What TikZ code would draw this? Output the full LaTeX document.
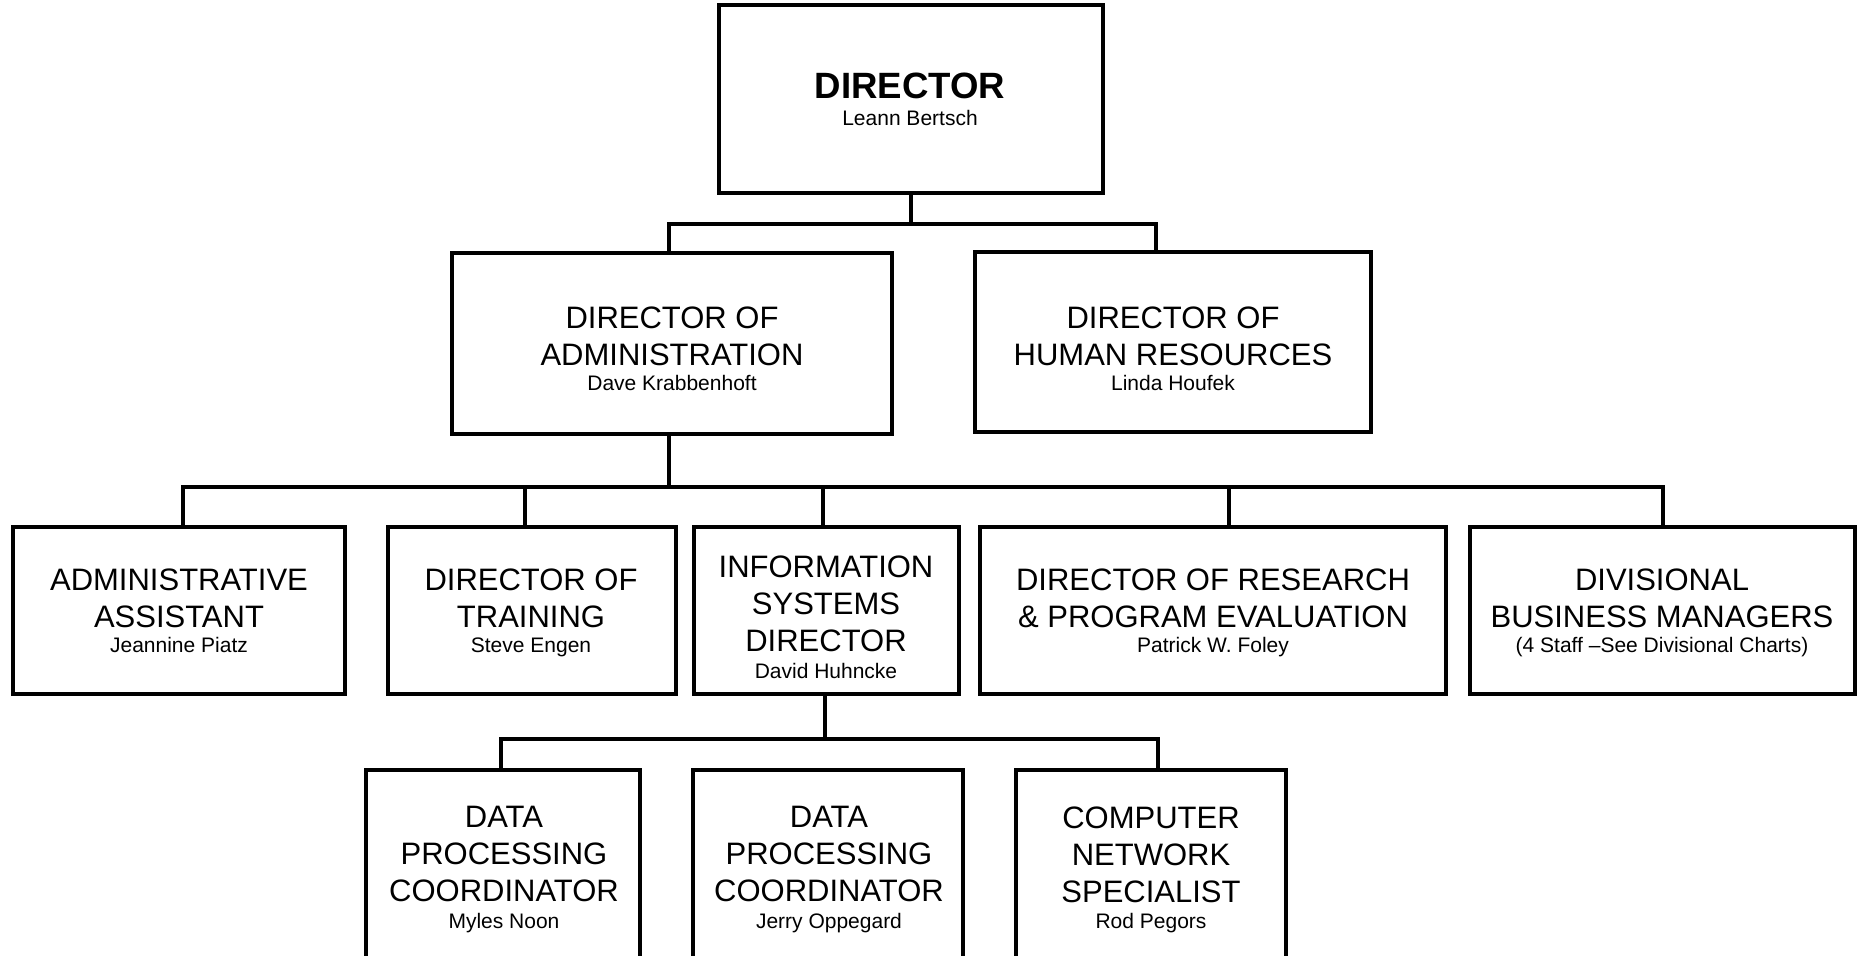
\documentclass[tikz,border=0pt]{standalone}
\usepackage{fontspec}
\setmainfont{Liberation Sans}
\usetikzlibrary{fit}
\begin{document}
\begin{tikzpicture}[x=0.5pt,y=-0.5pt,
  box/.style={draw=black, line width=1.6pt, inner sep=0pt},
  ttl/.style={anchor=north, align=center, inner sep=0pt, font=\fontsize{15.5}{18.5}\selectfont},
  nm/.style={anchor=base, inner sep=0pt, font=\fontsize{10.5}{12}\selectfont},
  bigttl/.style={anchor=base, inner sep=0pt, font=\fontsize{18.3}{22}\selectfont\bfseries},
  conn/.style={draw=black, line width=1.6pt}]
\useasboundingbox (0,0) rectangle (1858,956);
\fill[white] (0,0) rectangle (1858,956);
\clip (0,0) rectangle (1858,956);

% level 1
\node[box, fit={(719,5) (1103,193)}] (dir) {};
\node[bigttl] (dirt) at (910,99) {DIRECTOR};
\node[nm] (dirn) at (910,126) {Leann Bertsch};

% level 2
\node[box, fit={(452,253) (892,434)}] (adm) {};
\node[ttl] (admt) at (672,306) {DIRECTOR OF\\ADMINISTRATION};
\node[nm] (admn) at (672,391) {Dave Krabbenhoft};

\node[box, fit={(975,252) (1371,432)}] (hr) {};
\node[ttl] (hrt) at (1173,306) {DIRECTOR OF\\HUMAN RESOURCES};
\node[nm] (hrn) at (1173,391) {Linda Houfek};

% level 3
\node[box, fit={(13,527) (345,694)}] (aa) {};
\node[ttl] (aat) at (179,568) {ADMINISTRATIVE\\ASSISTANT};
\node[nm] (aan) at (179,653) {Jeannine Piatz};

\node[box, fit={(388,527) (676,694)}] (tr) {};
\node[ttl] (trt) at (531,568) {DIRECTOR OF\\TRAINING};
\node[nm] (trn) at (531,653) {Steve Engen};

\node[box, fit={(694,527) (959,694)}] (is) {};
\node[ttl] (ist) at (826,555) {INFORMATION\\SYSTEMS\\DIRECTOR};
\node[nm] (isn) at (826,678) {David Huhncke};

\node[box, fit={(980,527) (1446,694)}] (rs) {};
\node[ttl] (rst) at (1213,568) {DIRECTOR OF RESEARCH\\\& PROGRAM EVALUATION};
\node[nm] (rsn) at (1213,653) {Patrick W. Foley};

\node[box, fit={(1470,527) (1855,694)}] (dv) {};
\node[ttl] (dvt) at (1662,568) {DIVISIONAL\\BUSINESS MANAGERS};
\node[nm] (dvn) at (1662,653) {(4 Staff –See Divisional Charts)};

% level 4
\node[box, fit={(366,770) (640,1000)}] (dp1) {};
\node[ttl] (dp1t) at (504,806) {DATA\\PROCESSING\\COORDINATOR};
\node[nm] (dp1n) at (504,928) {Myles Noon};

\node[box, fit={(693,770) (963,1000)}] (dp2) {};
\node[ttl] (dp2t) at (829,806) {DATA\\PROCESSING\\COORDINATOR};
\node[nm] (dp2n) at (829,928) {Jerry Oppegard};

\node[box, fit={(1016,770) (1286,1000)}] (cn) {};
\node[ttl] (cnt) at (1151,806) {COMPUTER\\NETWORK\\SPECIALIST};
\node[nm] (cnn) at (1151,928) {Rod Pegors};

% connectors
\draw[conn] (dir.south) -- (911,224);
\draw[conn] (669,0 |- adm.north) -- (669,224) -- (1156,224) -- (1156,0 |- hr.north);

\draw[conn] (669,0 |- adm.south) -- (669,487);
\draw[conn] (183,0 |- aa.north) -- (183,487) -- (1663,487) -- (1663,0 |- dv.north);
\draw[conn] (525,487) -- (525,0 |- tr.north);
\draw[conn] (823,487) -- (823,0 |- is.north);
\draw[conn] (1229,487) -- (1229,0 |- rs.north);

\draw[conn] (825,0 |- is.south) -- (825,739);
\draw[conn] (501,0 |- dp1.north) -- (501,739) -- (1158,739) -- (1158,0 |- cn.north);
\end{tikzpicture}
\end{document}
